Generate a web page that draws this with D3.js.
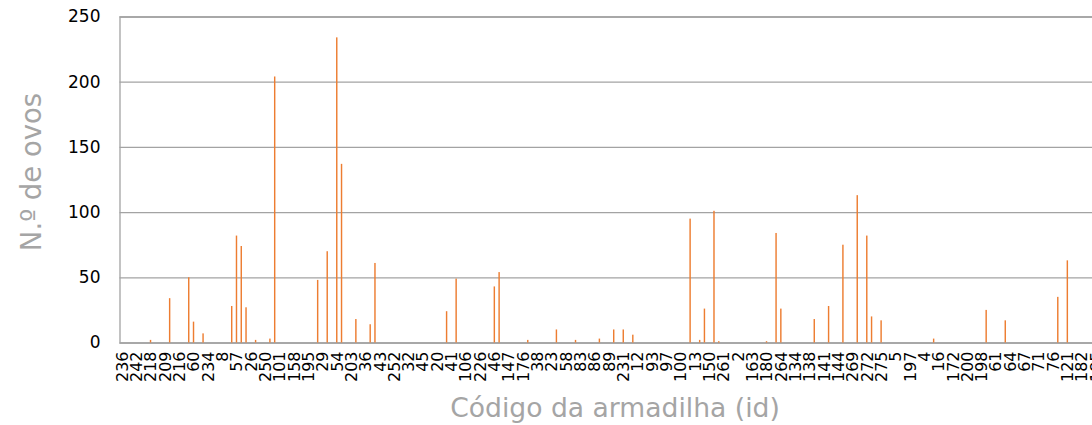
<!DOCTYPE html>
<html><head><meta charset="utf-8">
<script src="https://cdn.jsdelivr.net/npm/d3@7"></script>
<style>body{margin:0;background:#fff;overflow:hidden}</style>
</head><body><svg id="c" width="1092" height="425"></svg>
<script>
// Tick labels (every 3rd category is labelled); the last one is cut off in the source
const tickLabels = ["236","242","218","209","216","60","234","8","57","26","250","101","158","195","29","54","203","36","43","252","32","45","20","41","106","226","46","147","176","38","23","58","83","86","89","231","12","93","97","100","13","150","261","2","163","180","264","134","138","141","144","269","272","275","5","197","4","16","172","200","198","61","64","67","71","76","121","182","185"];
// Number of eggs per trap (category index order)
const values = [
  0,0,0,0,0,0,2,0,0,0,
  34,0,0,0,50,16,0,7,0,0,
  0,0,0,28,82,74,27,0,2,0,
  0,3,204,0,0,0,0,0,0,0,
  0,48,0,70,0,234,137,0,0,18,
  0,0,14,61,0,0,0,0,0,0,
  0,0,0,0,0,0,0,0,24,0,
  49,0,0,0,0,0,0,0,43,54,
  0,0,0,0,0,2,0,0,0,0,
  0,10,0,0,0,2,0,0,0,0,
  3,0,0,10,0,10,0,6,0,0,
  0,0,0,0,0,0,0,0,0,95,
  0,2,26,0,101,1,0,0,0,0,
  0,0,0,0,0,1,0,84,26,0,
  0,0,0,0,0,18,0,0,28,0,
  0,75,0,0,113,0,82,20,0,17,
  0,0,0,0,0,0,0,0,0,0,
  3,0,0,0,0,0,0,0,0,0,
  0,25,0,0,0,17,0,0,0,0,
  0,0,0,0,0,0,35,0,63,0,
  0,0,0,0,0
];
const yTicks = [0,50,100,150,200,250];
const labelEvery = 3;
const yTitle = "N.º de ovos";
const xTitle = "Código da armadilha (id)";

const W = 1092, H = 425;
const mLeft = 119.5, mTop = 16.5, mBottom = 342.5;
const step = 4.775;
const svg = d3.select("#c");

const x = d3.scaleBand()
  .domain(d3.range(values.length))
  .range([mLeft, mLeft + step * values.length])
  .paddingInner(0.7).paddingOuter(0.35);
const y = d3.scaleLinear().domain([0, 250]).range([mBottom, mTop]);

// y axis with gridlines
const gy = svg.append("g").attr("transform", `translate(${mLeft},0)`)
  .call(d3.axisLeft(y).tickValues(yTicks).tickSize(-(W - mLeft)).tickPadding(19));
gy.select(".domain").attr("stroke", "#a3a3a3").attr("stroke-width", 1.3);
gy.selectAll(".tick line").attr("stroke", "#a3a3a3").attr("stroke-width", 1.3);
gy.selectAll(".tick text").attr("font-family", "DejaVu Sans").attr("font-size", 17).attr("fill", "#000");

// bars
svg.append("g").selectAll("rect").data(values).join("rect")
  .attr("x", (d, i) => x(i))
  .attr("width", x.bandwidth())
  .attr("y", d => y(d))
  .attr("height", d => mBottom - y(d))
  .attr("fill", "#ED7D31");

// x axis labels
const gx = svg.append("g").attr("transform", `translate(0,${mBottom})`)
  .call(d3.axisBottom(x)
    .tickValues(d3.range(0, values.length, labelEvery))
    .tickFormat(i => tickLabels[i / labelEvery])
    .tickSize(0));
gx.select(".domain").remove();
gx.selectAll(".tick text")
  .attr("transform", "rotate(-90)")
  .attr("x", -9).attr("y", 0).attr("dy", "0.36em")
  .style("text-anchor", "end")
  .attr("font-family", "DejaVu Sans").attr("font-size", 16).attr("fill", "#000");

// titles
svg.append("text").attr("x", 615).attr("y", 417).attr("text-anchor", "middle")
  .attr("font-family", "DejaVu Sans").attr("font-size", 26.6).attr("fill", "#a5a5a5")
  .text(xTitle);
svg.append("text").attr("transform", "translate(31,172) rotate(-90)")
  .attr("text-anchor", "middle").attr("dy", "0.35em")
  .attr("font-family", "DejaVu Sans").attr("font-size", 27.5).attr("fill", "#a5a5a5")
  .text(yTitle);
</script></body></html>
